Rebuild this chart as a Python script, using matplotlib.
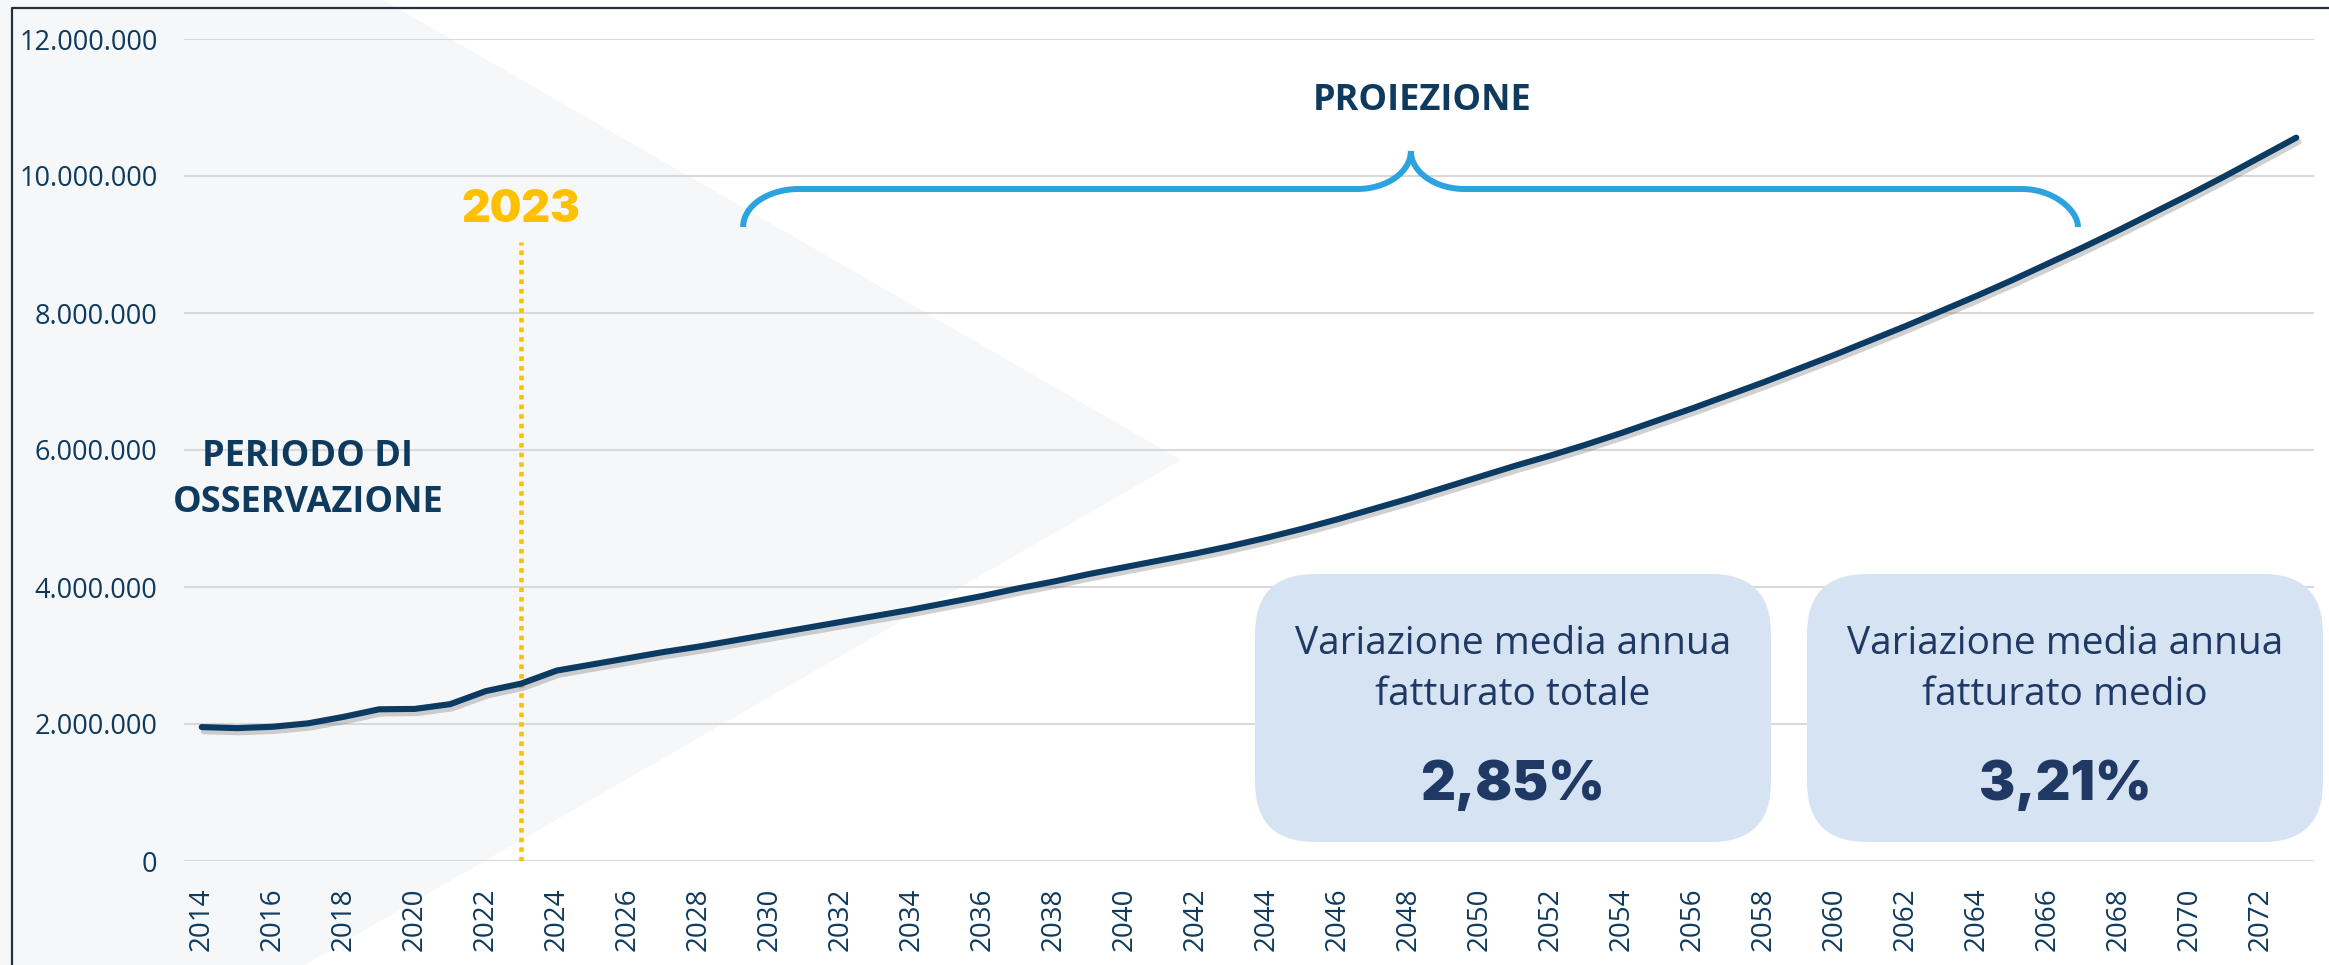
import matplotlib
matplotlib.use('Agg')
import matplotlib.pyplot as plt
from matplotlib import font_manager
from matplotlib.patches import Polygon, FancyBboxPatch, PathPatch
from matplotlib.path import Path
from matplotlib.lines import Line2D
from matplotlib.transforms import Affine2D
from matplotlib.ticker import FuncFormatter
import matplotlib.patheffects as pe

# data (fatturato, milioni)
years = list(range(2014, 2074))
fatturato = [1.955, 1.94, 1.96, 2.01, 2.105, 2.215, 2.22, 2.29, 2.48, 2.59,
             2.78, 2.87, 2.96, 3.05, 3.13, 3.22, 3.31, 3.40, 3.49, 3.58,
             3.67, 3.77, 3.87, 3.98, 4.08, 4.19, 4.29, 4.39, 4.49, 4.60,
             4.72, 4.85, 4.99, 5.14, 5.29, 5.45, 5.61, 5.77, 5.92, 6.08,
             6.25, 6.43, 6.61, 6.80, 6.99, 7.19, 7.39, 7.60, 7.81, 8.03,
             8.25, 8.48, 8.72, 8.96, 9.21, 9.47, 9.73, 10.00, 10.28, 10.56]
x_ticks = list(range(2014, 2073, 2))
y_ticks = [0, 2e6, 4e6, 6e6, 8e6, 10e6, 12e6]
anno_oss = 2023
box_titoli = [["Variazione media annua", "fatturato totale"],
              ["Variazione media annua", "fatturato medio"]]
box_valori = ["2,85%", "3,21%"]

NAVY = '#0B3A62'
TXT = '#0E3A5E'
BOXTXT = '#1F3864'
YELLOW = '#FFC000'
CYAN = '#2CA3DF'

# heaviest font available for the big numbers
heavy = None
best = 0
for f in font_manager.fontManager.ttflist:
    if f.name in ('Lato', 'Roboto', 'Inter', 'Open Sans', 'Noto Sans') and f.style == 'normal':
        w = f.weight if isinstance(f.weight, int) else 700
        if w > best:
            best, heavy = w, f.fname
heavy_fp = font_manager.FontProperties(fname=heavy) if heavy else font_manager.FontProperties(weight='bold')

W, H = 2329, 965
fig = plt.figure(figsize=(W / 100, H / 100), dpi=100)
# pixel coords, y from top
px = Affine2D().scale(1 / 100, -1 / 100).translate(0, H / 100) + fig.dpi_scale_trans

# grey background shape
tri = Polygon([(0, 0), (383, 0), (1181, 460), (304, 965), (0, 965)], closed=True,
              facecolor='#F6F7F9', edgecolor='none', transform=px, zorder=-5)
fig.add_artist(tri)
fig.add_artist(Line2D([12, 12, W], [H, 8, 8], color='#262F3A', lw=1.6, transform=px, zorder=-4))

ax = fig.add_axes([184 / W, (H - 861) / H, (2314 - 184) / W, (861 - 39) / H])
ax.set_facecolor('none')
ax.set_xlim(2013.5, 2073.5)
ax.set_ylim(0, 12e6)
for s in ax.spines.values():
    s.set_visible(False)
ax.set_yticks(y_ticks)
ax.yaxis.set_major_formatter(FuncFormatter(lambda v, p: f"{int(v):,}".replace(',', '.')))
ax.set_xticks(x_ticks)
ax.tick_params(axis='x', length=0, pad=19, labelrotation=90, labelsize=20, labelcolor=TXT)
ax.tick_params(axis='y', length=0, pad=19, labelsize=19.5, labelcolor=TXT)
for lab in ax.get_xticklabels() + ax.get_yticklabels():
    lab.set_fontfamily('Open Sans')
ax.grid(axis='y', color='#D9D9D9', lw=1.5)
ax.set_axisbelow(True)

vals = [v * 1e6 for v in fatturato]
ax.plot(years, vals, color=NAVY, lw=4.4, solid_capstyle='round', solid_joinstyle='round', zorder=4,
        path_effects=[pe.SimpleLineShadow(offset=(1.5, -3), shadow_color='#7a7a7a', alpha=0.35),
                      pe.Normal()])

# 2023 marker
ax.plot([anno_oss, anno_oss], [0, 9.04e6], color=YELLOW, lw=3.3, dashes=(1.0, 1.1),
        dash_capstyle='butt', zorder=3)
ax.text(anno_oss, 9.33e6, str(anno_oss), ha='center', va='baseline', color=YELLOW,
        fontproperties=heavy_fp, fontsize=32)

# brace over projection
xl, xl2, xc1, xc, xc2, xr2, xr = 2029.25, 2030.82, 2046.54, 2048.06, 2049.58, 2065.28, 2066.85
yb, ym, yt = 9.256e6, 9.81e6, 10.365e6
k = 0.5523
verts = [(xl, yb), (xl, yb + k * (ym - yb)), (xl2 - k * (xl2 - xl), ym), (xl2, ym),
         (xc1, ym),
         (xc1 + k * (xc - xc1), ym), (xc, yt - k * (yt - ym)), (xc, yt),
         (xc, yt - k * (yt - ym)), (xc2 - k * (xc2 - xc), ym), (xc2, ym),
         (xr2, ym),
         (xr2 + k * (xr - xr2), ym), (xr, ym - k * (ym - yb)), (xr, yb)]
codes = [Path.MOVETO, Path.CURVE4, Path.CURVE4, Path.CURVE4, Path.LINETO,
         Path.CURVE4, Path.CURVE4, Path.CURVE4, Path.CURVE4, Path.CURVE4, Path.CURVE4,
         Path.LINETO, Path.CURVE4, Path.CURVE4, Path.CURVE4]
ax.add_patch(PathPatch(Path(verts, codes), facecolor='none', edgecolor=CYAN, lw=4.3,
                       capstyle='butt', clip_on=False, zorder=5))

fig.text(1422, 110, 'PROIEZIONE', transform=px, ha='center', va='baseline', color=TXT,
         fontsize=26, family='Open Sans', fontweight='bold')
fig.text(308, 466, 'PERIODO DI', transform=px, ha='center', va='baseline', color=TXT,
         fontsize=26, family='Open Sans', fontweight='bold')
fig.text(308, 512, 'OSSERVAZIONE', transform=px, ha='center', va='baseline', color=TXT,
         fontsize=26, family='Open Sans', fontweight='bold')

# boxes
box_x = [1255, 1807]
for bx, titolo, valore in zip(box_x, box_titoli, box_valori):
    fig.add_artist(FancyBboxPatch((bx + 60, 574 + 60), 516 - 120, 268 - 120,
                                  boxstyle='round,pad=60', facecolor='#D5E3F3',
                                  edgecolor='none', transform=px, zorder=2))
    cx = bx + 258
    fig.text(cx, 654, titolo[0], transform=px, ha='center', va='baseline', color=BOXTXT,
             fontsize=28, family='Open Sans', zorder=3)
    fig.text(cx, 705, titolo[1], transform=px, ha='center', va='baseline', color=BOXTXT,
             fontsize=28, family='Open Sans', zorder=3)
    fig.text(cx, 800, valore, transform=px, ha='center', va='baseline', color=BOXTXT,
             fontproperties=heavy_fp, fontsize=39, zorder=3)

fig.savefig('out.png', dpi=100)
